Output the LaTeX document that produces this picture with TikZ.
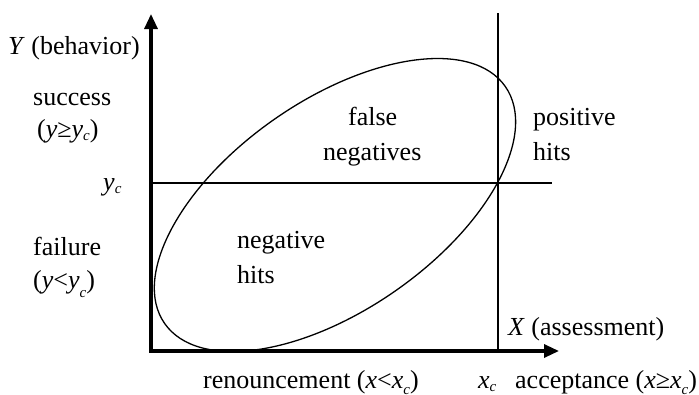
\documentclass[tikz,border=0pt]{standalone}
\usepackage{fontspec}
\setmainfont{Liberation Serif}
\usetikzlibrary{arrows.meta}
\newcommand\sbc[1]{\raisebox{#1}{\fontsize{15}{15}\selectfont\textit{c}}}
\begin{document}
\begin{tikzpicture}[x=1pt,y=-1pt,
  lbl/.style={inner sep=0pt,anchor=base west,font=\fontsize{26}{30}\selectfont},
  axis/.style={line width=3.2pt,-{Triangle[length=15pt,width=13pt]}},
  crit/.style={line width=1.8pt},
  oval/.style={line width=1.3pt}]
\useasboundingbox (0,0) rectangle (699,394);
% axes
\coordinate (O) at (151,351);
\coordinate (Ytip) at (151,14);
\coordinate (Xtip) at (559,351);
\draw[axis] ([yshift=1.6pt]O) -- (Ytip);
\draw[axis] ([xshift=-1.6pt]O) -- (Xtip);
% critical lines
\coordinate (yc0) at (151,183);
\coordinate (yc1) at (552,183);
\coordinate (xc0) at (498,13);
\coordinate (xc1) at (498,351);
\draw[crit] (yc0) -- (yc1);
\draw[crit] (xc0) -- (xc1);
% ellipse
\coordinate (C) at (335,205);
\draw[oval,rotate around={34.8:(C)}] (C) ellipse [x radius=207.5pt, y radius=105pt];
% labels
\node[lbl] (ylab) at (8,54) {\textit{Y} (behavior)};
\node[lbl] (succ) at (33,105) {success};
\node[lbl] (succc) at (37,137) {(\textit{y}≥\textit{y}\sbc{-3pt})};
\node[lbl] (yc) at (103,190) {\textit{y}\sbc{-3pt}};
\node[lbl] (fail) at (33,255) {failure};
\node[lbl] (failc) at (33,288) {(\textit{y}<\textit{y}\sbc{-9pt})};
\node[lbl] (fn1) at (348,125) {false};
\node[lbl] (fn2) at (323,160) {negatives};
\node[lbl] (nh1) at (237,248) {negative};
\node[lbl] (nh2) at (237,283) {hits};
\node[lbl] (ph1) at (533,125) {positive};
\node[lbl] (ph2) at (533,160) {hits};
\node[lbl] (xlab) at (508,335) {\textit{X} (assessment)};
\node[lbl] (ren) at (203,388) {renouncement (\textit{x}<\textit{x}\sbc{-6pt})};
\node[lbl] (xc) at (478,388) {\textit{x}\sbc{-3pt}};
\node[lbl] (acc) at (515,388) {acceptance (\textit{x}≥\textit{x}\sbc{-6pt})};
\end{tikzpicture}
\end{document}
